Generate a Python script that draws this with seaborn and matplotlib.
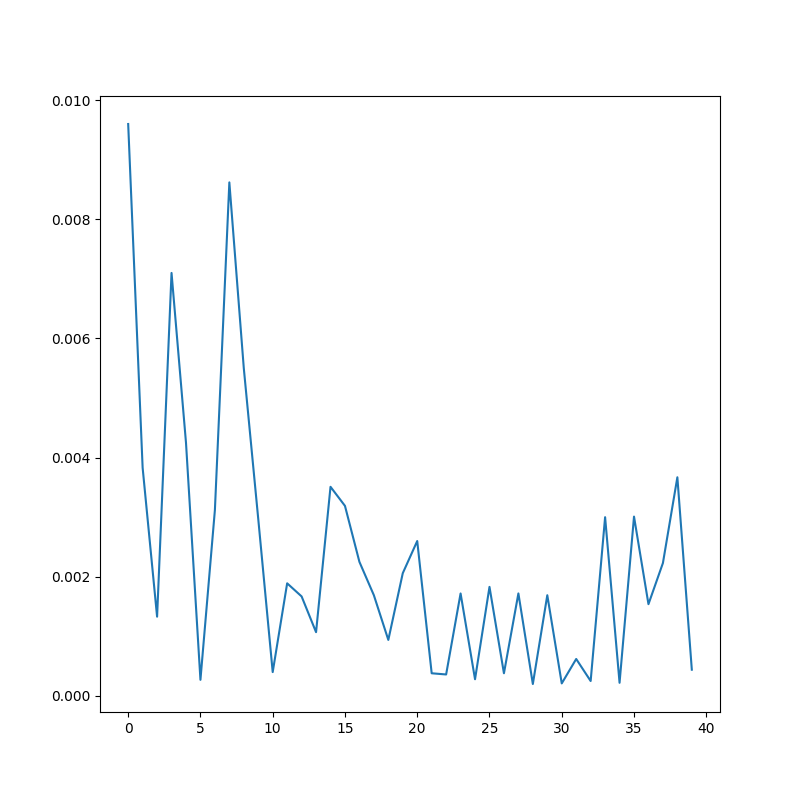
import numpy as np
import pandas as pd
import seaborn as sns
import matplotlib
matplotlib.use('Agg')
import matplotlib.pyplot as plt

# values
step = list(range(40))
value = [0.00960, 0.00383, 0.00133, 0.00710, 0.00425, 0.00027, 0.00312, 0.00862,
         0.00550, 0.00297, 0.00040, 0.00189, 0.00167, 0.00107, 0.00351, 0.00319,
         0.00225, 0.00169, 0.00094, 0.00206, 0.00260, 0.00038, 0.00036, 0.00172,
         0.00028, 0.00183, 0.00038, 0.00172, 0.00020, 0.00169, 0.00021, 0.00062,
         0.00025, 0.00300, 0.00022, 0.00301, 0.00154, 0.00223, 0.00367, 0.00044]

data = pd.DataFrame({'step': step, 'value': value})

fig, ax = plt.subplots(figsize=(8, 8), dpi=100)
sns.lineplot(data=data, x='step', y='value', ax=ax, color='#1f77b4')
ax.set_xlabel('')
ax.set_ylabel('')
plt.savefig('out.png', dpi=100)
